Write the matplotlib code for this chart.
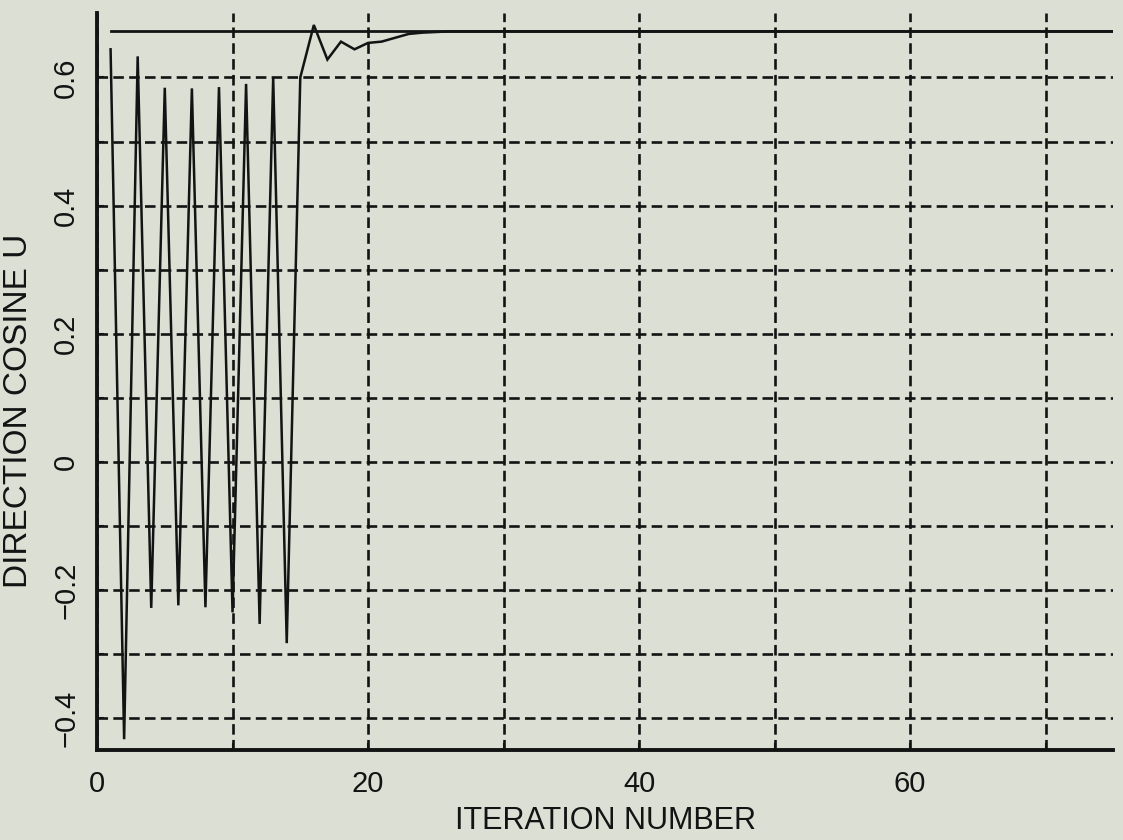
import numpy as np
import matplotlib
matplotlib.use("Agg")
import matplotlib.pyplot as plt
from matplotlib.ticker import FixedLocator

# Iteration numbers and estimated direction cosine U
iterations = list(range(1, 76))
u_start = [0.644, -0.433, 0.633, -0.228, 0.584, -0.224, 0.583, -0.227,
           0.585, -0.235, 0.590, -0.253, 0.600, -0.283, 0.600, 0.682,
           0.628, 0.656, 0.644, 0.654, 0.656, 0.662, 0.668, 0.670, 0.671]
u_settled = [0.672] * (len(iterations) - len(u_start))
u_estimate = u_start + u_settled

# True direction cosine (reference line)
u_true = [0.672] * len(iterations)

x_ticks = [0, 20, 40, 60]
x_minor = [10, 30, 50, 70]
y_ticks = [-0.4, -0.2, 0, 0.2, 0.4, 0.6]
y_minor = [-0.3, -0.1, 0.1, 0.3, 0.5]
y_tick_labels = ["\u22120.4", "\u22120.2", "0", "0.2", "0.4", "0.6"]

bg = "#dcdfd4"
ink = "#131313"

plt.rcParams["font.family"] = ["Liberation Sans", "DejaVu Sans"]

fig = plt.figure(figsize=(11.23, 8.4), dpi=100, facecolor=bg)
ax = fig.add_axes([0.0864, 0.107, 0.905, 0.877], facecolor=bg)

ax.plot(iterations, u_true, color=ink, lw=2.0, solid_joinstyle="miter")
ax.plot(iterations, u_estimate, color=ink, lw=1.8, solid_joinstyle="miter")

ax.set_xlim(0, 75)
ax.set_ylim(-0.45, 0.70)

ax.set_xticks(x_ticks)
ax.xaxis.set_minor_locator(FixedLocator(x_minor))
ax.set_yticks(y_ticks)
ax.set_yticklabels(y_tick_labels, rotation=90, va="center")
ax.yaxis.set_minor_locator(FixedLocator(y_minor))

ax.grid(True, which="both", color=ink, lw=1.9, linestyle=(0, (4, 2)))
ax.set_axisbelow(True)

for side in ["top", "right"]:
    ax.spines[side].set_visible(False)
for side in ["left", "bottom"]:
    ax.spines[side].set_linewidth(2.8)
    ax.spines[side].set_color(ink)

ax.tick_params(which="both", direction="in", length=5, width=1.5, color=ink,
               labelsize=21, labelcolor=ink)
ax.tick_params(axis="x", pad=14)
ax.tick_params(axis="y", pad=12)

ax.set_xlabel("ITERATION NUMBER", fontsize=22, color=ink, labelpad=6)
ax.set_ylabel("DIRECTION COSINE U", fontsize=24, color=ink)
ax.yaxis.set_label_coords(-0.062, 0.46)

fig.savefig("out.png", dpi=100, facecolor=bg)
